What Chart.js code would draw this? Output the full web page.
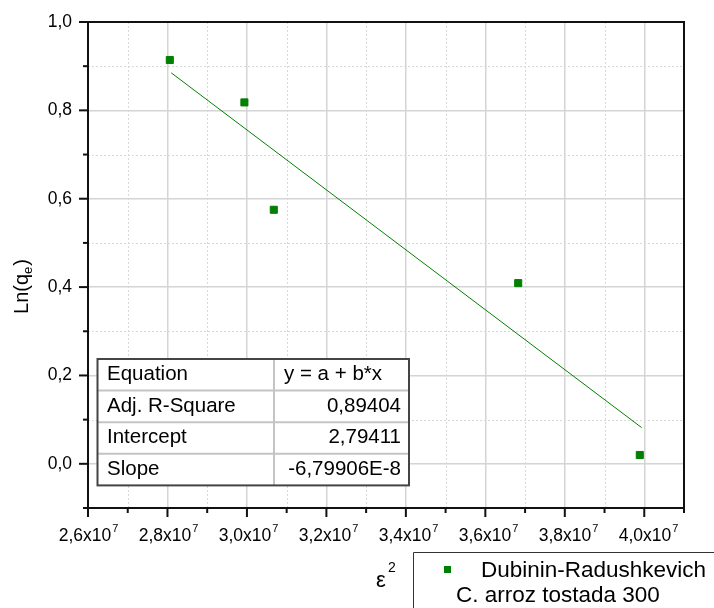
<!DOCTYPE html>
<html>
<head>
<meta charset="utf-8">
<script src="https://cdn.jsdelivr.net/npm/chart.js@4"></script>
<style>
  html, body { margin: 0; padding: 0; background: #fff; }
  canvas { display: block; }
</style>
</head>
<body>
<canvas id="chart" width="714" height="608"></canvas>
<script>
// data
const xValues = [2.8045e7, 2.991e7, 3.0645e7, 3.6755e7, 3.9795e7];
const yValues = [0.914, 0.818, 0.575, 0.409, 0.020];
const fitX = [2.808e7, 3.984e7];
const fitY = [0.885, 0.082];

const xTickLabels = ["2,6", "2,8", "3,0", "3,2", "3,4", "3,6", "3,8", "4,0"];
const xTickValues = [2.6e7, 2.8e7, 3.0e7, 3.2e7, 3.4e7, 3.6e7, 3.8e7, 4.0e7];
const yTickLabels = ["0,0", "0,2", "0,4", "0,6", "0,8", "1,0"];

const tableRows = [
  ["Equation", "y = a + b*x"],
  ["Adj. R-Square", "0,89404"],
  ["Intercept", "2,79411"],
  ["Slope", "-6,79906E-8"],
];
const seriesName = "Dubinin-Radushkevich";
const sampleName = "C. arroz tostada 300";

const GREEN = "#008000";
const FONT = "'Liberation Sans', Arial, sans-serif";
Chart.defaults.font.family = FONT;

function isMajorY(v) { return Math.round(v * 10) % 2 === 0; }
function isMajorX(v) { return Math.round(v / 1e6) % 2 === 0; }

const decor = {
  id: "decor",
  beforeDatasetsDraw(chart) {
    const { ctx, chartArea: a, scales: { x, y } } = chart;
    ctx.save();
    ctx.strokeStyle = "#d8d8d8";
    ctx.lineWidth = 1;
    ctx.setLineDash([2, 2]);
    x.ticks.forEach(t => {
      if (isMajorX(t.value)) return;
      const px = Math.round(x.getPixelForValue(t.value)) + 0.5;
      ctx.beginPath(); ctx.moveTo(px, a.top); ctx.lineTo(px, a.bottom); ctx.stroke();
    });
    y.ticks.forEach(t => {
      if (isMajorY(t.value)) return;
      const py = Math.round(y.getPixelForValue(t.value)) + 0.5;
      ctx.beginPath(); ctx.moveTo(a.left, py); ctx.lineTo(a.right, py); ctx.stroke();
    });
    ctx.restore();
  },
  afterDraw(chart) {
    const { ctx, chartArea: a, scales: { x, y } } = chart;
    ctx.save();
    // frame
    ctx.strokeStyle = "#111";
    ctx.lineWidth = 2;
    ctx.strokeRect(a.left, a.top, a.right - a.left, a.bottom - a.top);
    // ticks
    y.ticks.forEach(t => {
      const py = y.getPixelForValue(t.value);
      const len = isMajorY(t.value) ? 9 : 5;
      ctx.beginPath(); ctx.moveTo(a.left, py); ctx.lineTo(a.left - len, py); ctx.stroke();
    });
    x.ticks.forEach(t => {
      const px = x.getPixelForValue(t.value);
      const len = isMajorX(t.value) ? 9 : 5;
      ctx.beginPath(); ctx.moveTo(px, a.bottom); ctx.lineTo(px, a.bottom + len); ctx.stroke();
    });
    // x tick labels with superscript exponent
    ctx.fillStyle = "#000";
    ctx.textBaseline = "alphabetic";
    xTickValues.forEach((v, i) => {
      const px = x.getPixelForValue(v);
      const base = xTickLabels[i] + "x10";
      ctx.font = "17.5px " + FONT;
      const w1 = ctx.measureText(base).width;
      ctx.font = "11px " + FONT;
      const w2 = ctx.measureText("7").width;
      const start = px - (w1 + w2) / 2;
      ctx.font = "17.5px " + FONT;
      ctx.textAlign = "left";
      ctx.fillText(base, start, a.bottom + 33);
      ctx.font = "11px " + FONT;
      ctx.fillText("7", start + w1 + 1, a.bottom + 24);
    });
    // y axis title
    ctx.save();
    ctx.translate(28, 287);
    ctx.rotate(-Math.PI / 2);
    ctx.font = "20px " + FONT;
    const p1 = "Ln(q";
    const w1 = ctx.measureText(p1).width;
    ctx.font = "13px " + FONT;
    const we = ctx.measureText("e").width;
    ctx.font = "20px " + FONT;
    const w3 = ctx.measureText(")").width;
    const sx = -(w1 + we + w3) / 2;
    ctx.textAlign = "left";
    ctx.fillText(p1, sx, 0);
    ctx.font = "13px " + FONT;
    ctx.fillText("e", sx + w1, 4);
    ctx.font = "20px " + FONT;
    ctx.fillText(")", sx + w1 + we + 1, 0);
    ctx.restore();
    // x axis title
    ctx.font = "22px " + FONT;
    ctx.textAlign = "left";
    ctx.fillText("\u03b5", 376, 587);
    ctx.font = "14px " + FONT;
    ctx.fillText("2", 388, 572);

    // fit table
    const tl = 97.5, tr = 409, tt = 359, rh = 31.6, cx = 274;
    const tb = tt + rh * tableRows.length;
    ctx.fillStyle = "#fff";
    ctx.fillRect(tl, tt, tr - tl, tb - tt);
    ctx.strokeStyle = "#c4c4c4";
    ctx.lineWidth = 2;
    for (let r = 1; r < tableRows.length; r++) {
      const ry = tt + rh * r;
      ctx.beginPath(); ctx.moveTo(tl, ry); ctx.lineTo(tr, ry); ctx.stroke();
    }
    ctx.beginPath(); ctx.moveTo(cx, tt); ctx.lineTo(cx, tb); ctx.stroke();
    ctx.strokeStyle = "#444";
    ctx.strokeRect(tl, tt, tr - tl, tb - tt);
    ctx.fillStyle = "#000";
    ctx.font = "20.5px " + FONT;
    tableRows.forEach((row, r) => {
      const by = tt + rh * r + 21;
      ctx.textAlign = "left";
      ctx.fillText(row[0], 107, by);
      if (r === 0) {
        ctx.fillText(row[1], 284, by);
      } else {
        ctx.textAlign = "right";
        ctx.fillText(row[1], 401, by);
      }
    });

    // legend box
    ctx.strokeStyle = "#333";
    ctx.lineWidth = 1;
    ctx.beginPath();
    ctx.moveTo(413.5, 620); ctx.lineTo(413.5, 552.5); ctx.lineTo(720, 552.5);
    ctx.stroke();
    ctx.fillStyle = GREEN;
    ctx.fillRect(444, 566, 7, 7);
    ctx.fillStyle = "#000";
    ctx.font = "22.5px " + FONT;
    ctx.textAlign = "left";
    ctx.fillText(seriesName, 481, 577);
    ctx.fillText(sampleName, 456, 602);
    ctx.restore();
  }
};

new Chart(document.getElementById("chart"), {
  type: "scatter",
  data: {
    datasets: [
      {
        data: xValues.map((v, i) => ({ x: v, y: yValues[i] })),
        backgroundColor: GREEN,
        borderColor: GREEN,
        borderWidth: 1,
        pointStyle: "rect",
        pointRadius: 5,
      },
      {
        data: fitX.map((v, i) => ({ x: v, y: fitY[i] })),
        showLine: true,
        borderColor: GREEN,
        borderWidth: 1,
        pointRadius: 0,
      },
    ],
  },
  options: {
    responsive: false,
    animation: false,
    devicePixelRatio: 1,
    layout: { padding: { top: 22, right: 30, left: 0, bottom: 0 } },
    plugins: { legend: { display: false }, tooltip: { enabled: false } },
    scales: {
      x: {
        type: "linear",
        min: 2.6e7,
        max: 4.09e7,
        afterFit: s => { s.height = 100; s.paddingLeft = 0; s.paddingRight = 0; },
        ticks: { display: false, stepSize: 1e6, includeBounds: false },
        border: { display: false },
        grid: {
          drawTicks: false,
          lineWidth: 1.5,
          color: c => (isMajorX(c.tick.value) ? "#d4d4d4" : "rgba(0,0,0,0)"),
        },
      },
      y: {
        min: -0.1,
        max: 1.0,
        afterFit: s => { s.width = 88; s.paddingTop = 0; s.paddingBottom = 0; },
        ticks: {
          stepSize: 0.1,
          padding: 16,
          color: "#000",
          font: { size: 17.5 },
          callback: v => (isMajorY(v) ? yTickLabels[Math.round(v * 5)] : ""),
        },
        border: { display: false },
        grid: {
          drawTicks: false,
          lineWidth: 1.5,
          color: c => (isMajorY(c.tick.value) ? "#d4d4d4" : "rgba(0,0,0,0)"),
        },
      },
    },
  },
  plugins: [decor],
});
</script>
</body>
</html>
